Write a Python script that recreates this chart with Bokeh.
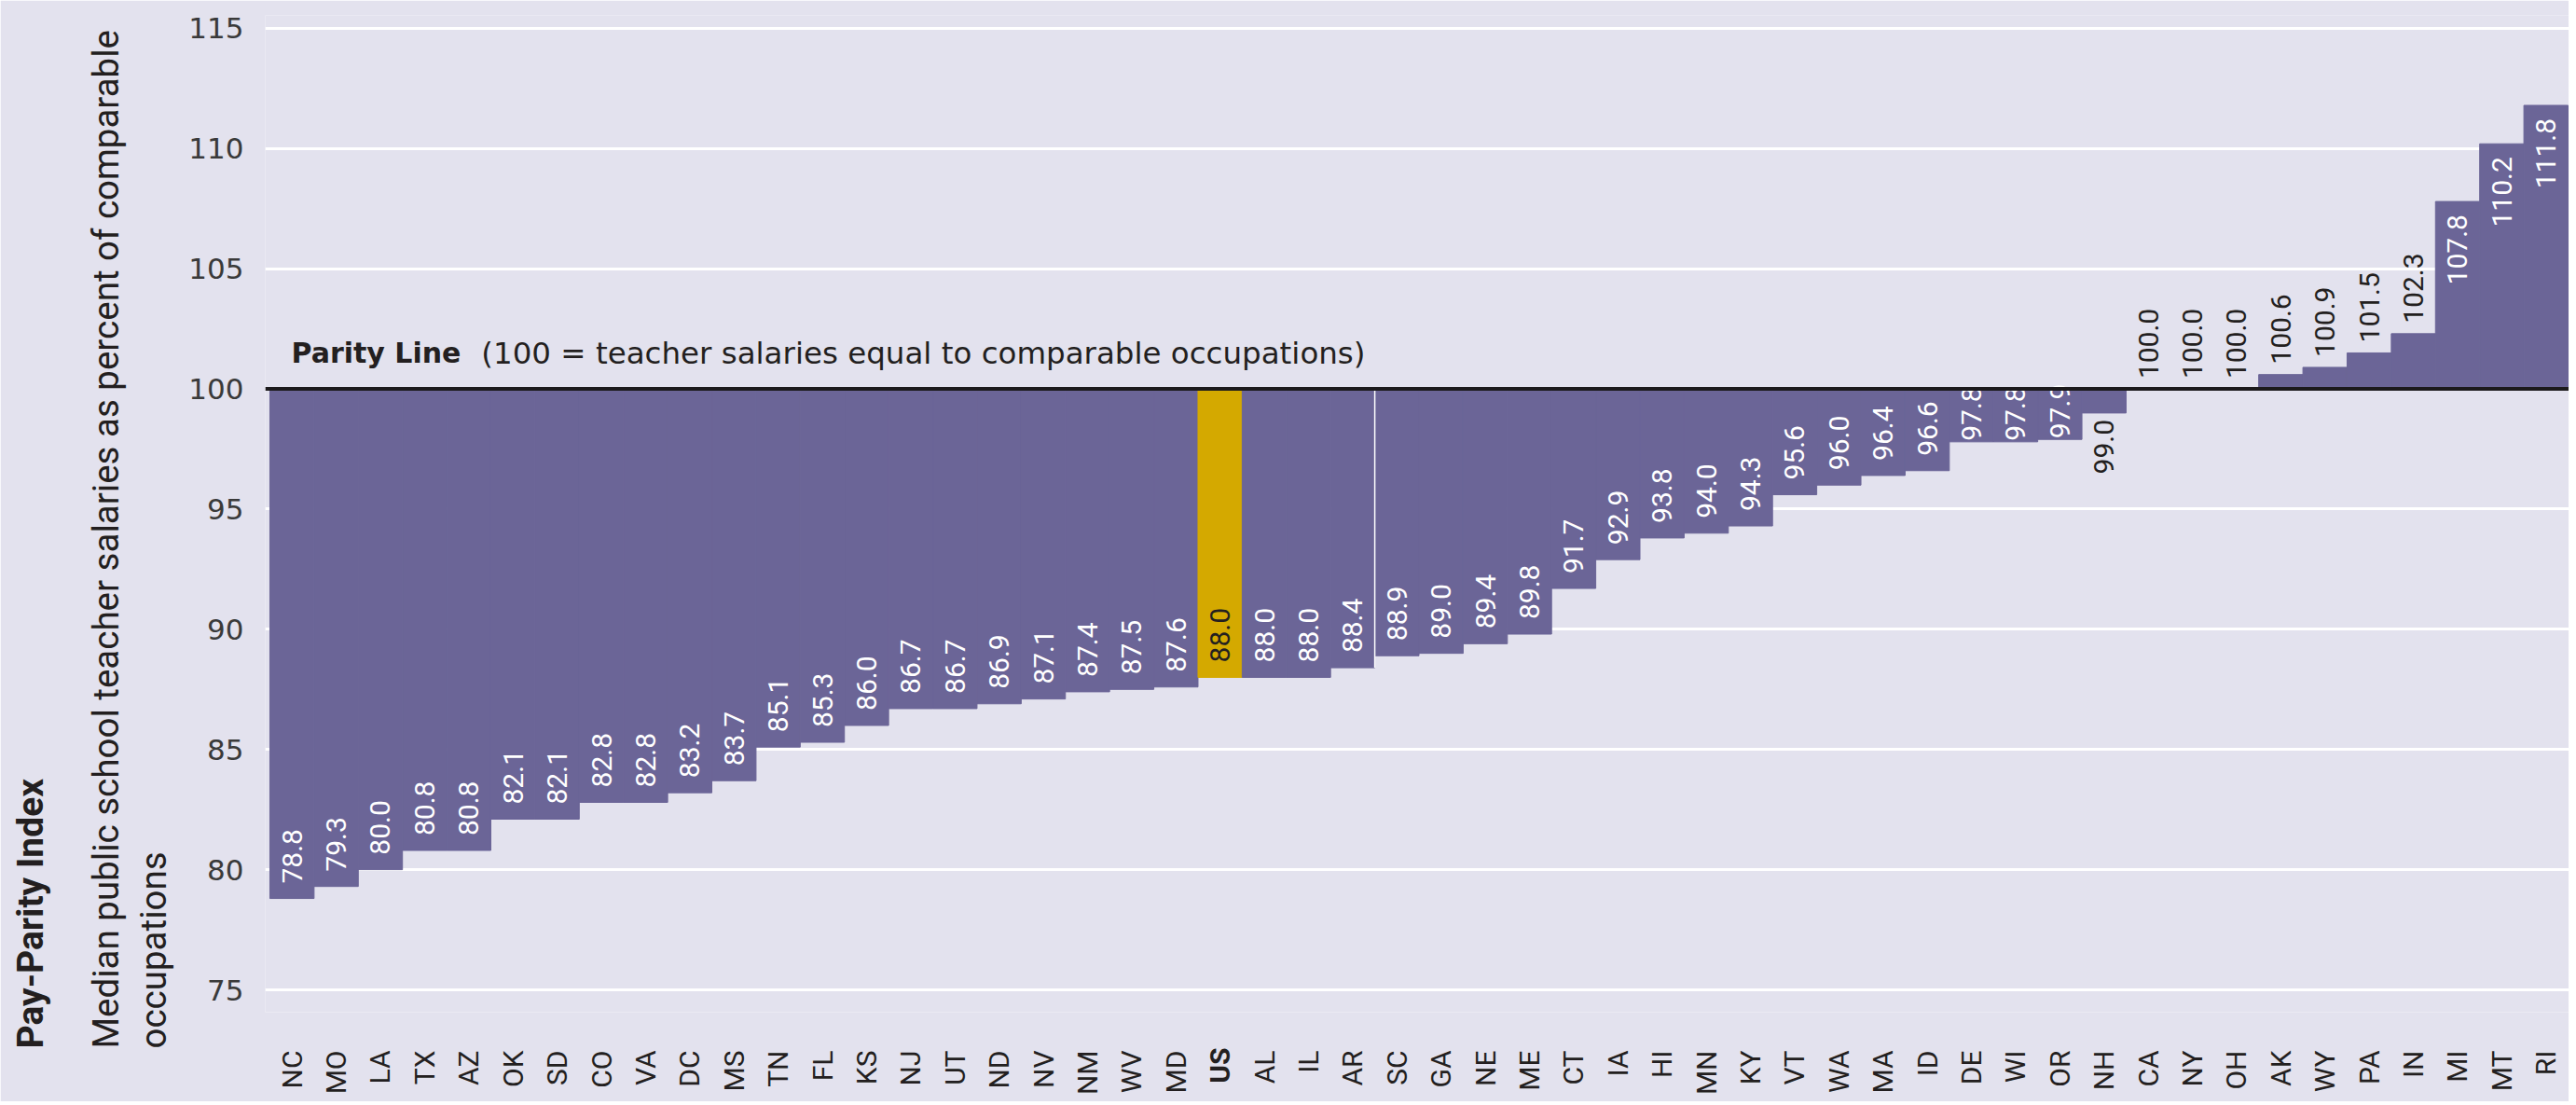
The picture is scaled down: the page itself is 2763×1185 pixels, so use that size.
import math
from bokeh.plotting import figure
from bokeh.models import Range1d, FixedTicker, Span, Label, ColumnDataSource, Title, LinearAxis
from bokeh.core.properties import value
from bokeh.embed import file_html
from bokeh.resources import INLINE

# ---------------- data ----------------
states = ["NC", "MO", "LA", "TX", "AZ", "OK", "SD", "CO", "VA", "DC", "MS", "TN", "FL",
          "KS", "NJ", "UT", "ND", "NV", "NM", "WV", "MD", "US", "AL", "IL", "AR", "SC",
          "GA", "NE", "ME", "CT", "IA", "HI", "MN", "KY", "VT", "WA", "MA", "ID", "DE",
          "WI", "OR", "NH", "CA", "NY", "OH", "AK", "WY", "PA", "IN", "MI", "MT", "RI"]
pay_parity = [78.8, 79.3, 80.0, 80.8, 80.8, 82.1, 82.1, 82.8, 82.8, 83.2, 83.7, 85.1, 85.3,
              86.0, 86.7, 86.7, 86.9, 87.1, 87.4, 87.5, 87.6, 88.0, 88.0, 88.0, 88.4, 88.9,
              89.0, 89.4, 89.8, 91.7, 92.9, 93.8, 94.0, 94.3, 95.6, 96.0, 96.4, 96.6, 97.8,
              97.8, 97.9, 99.0, 100.0, 100.0, 100.0, 100.6, 100.9, 101.5, 102.3, 107.8, 110.2,
              111.8]
highlight = "US"
parity = 100
y_ticks = [75, 80, 85, 90, 95, 100, 105, 110, 115]
title_bold = "Pay-Parity Index"
title_line1 = "Median public school teacher salaries as percent of comparable"
title_line2 = "occupations"
parity_bold = "Parity Line"
parity_note = "(100 = teacher salaries equal to comparable occupations)"

# ---------------- style ----------------
BG = "#e3e2ee"
BAR = "#6b6597"
GOLD = "#d4a900"
INK = "#231f20"
NARROW = "Roboto"
WIDE = "DejaVu Sans"

W, H = 2755, 1181
ML, MT, MB = 282, 16, 96
x_start, x_end = -0.605, 51.521
y_start, y_end = 74.069, 115.543
FW, FH = W - ML, H - MT - MB
PX_PER_Y = FH / (y_end - y_start)


def px_x(page_x):
    return x_start + (page_x - ML) / FW * (x_end - x_start)


def px_y(page_y):
    return y_end - (page_y - MT) / FH * (y_end - y_start)


p = figure(width=W, height=H, x_range=Range1d(x_start, x_end), y_range=Range1d(y_start, y_end),
           output_backend="svg", toolbar_location=None,
           min_border_left=ML, min_border_right=0, min_border_top=MT, min_border_bottom=MB,
           background_fill_color=BG, border_fill_color=BG, outline_line_color=None)

# grid
p.xgrid.grid_line_color = None
p.ygrid.ticker = FixedTicker(ticks=y_ticks)
p.ygrid.grid_line_color = "white"
p.ygrid.grid_line_width = 3

# bars
xs = list(range(len(states)))
colors = [GOLD if s == highlight else BAR for s in states]
src = ColumnDataSource(dict(x=xs, v=pay_parity, c=colors))
p.vbar(x="x", width=1.0, bottom=parity, top="v", fill_color="c", line_color="c",
       line_width=1, source=src)

# thin seam between AR and SC
i_sc = states.index("SC")
p.segment(x0=[i_sc - 0.5], y0=[parity], x1=[i_sc - 0.5], y1=[pay_parity[states.index("AR")]],
          line_color="white", line_width=1.5)

# parity line
p.add_layout(Span(location=parity, dimension="width", line_color="#1c1a1c", line_width=4,
                  level="overlay"))

# value labels
LABEL_SIZE = 30
label_len_px = 2.0 * LABEL_SIZE
groups = {"left": dict(x=[], y=[], t=[], c=[], o=[]), "right": dict(x=[], y=[], t=[], c=[], o=[])}
for i, (s, v) in enumerate(zip(states, pay_parity)):
    d = v - parity
    bar_px = abs(d) * PX_PER_Y
    if d < -1.5:          # inside, reading up from the bar end
        pad = 16 if bar_px > label_len_px + 22 else 1
        g, col, off = "left", (INK if s == highlight else "white"), -pad
    elif d < 0:           # short bar: below it
        g, col, off = "right", INK, 7
    elif d < 5:           # at/above parity, short: above the bar
        g, col, off = "left", INK, -11
    else:                 # tall bar: inside, ending near the top
        g, col, off = "right", "white", 14
    groups[g]["x"].append(i)
    groups[g]["y"].append(v)
    groups[g]["t"].append(f"{v:.1f}")
    groups[g]["c"].append(col)
    groups[g]["o"].append(off)
for align, gd in groups.items():
    p.text(x="x", y="y", text="t", text_color="c", y_offset="o", angle=math.pi / 2,
           text_align=align, text_baseline="middle", text_font=value(NARROW),
           text_font_size=f"{LABEL_SIZE}px", source=ColumnDataSource(gd))

# y axis
p.yaxis.ticker = FixedTicker(ticks=y_ticks)
p.yaxis.axis_line_color = None
p.yaxis.major_tick_line_color = None
p.yaxis.major_tick_out = 0
p.yaxis.minor_tick_line_color = None
p.yaxis.major_label_standoff = 23
p.yaxis.major_label_text_font = WIDE
p.yaxis.major_label_text_font_size = "31px"
p.yaxis.major_label_text_color = "#3a3a3a"


def style_x(ax, standoff, bold):
    ax.major_label_orientation = math.pi / 2
    ax.axis_line_color = None
    ax.major_tick_line_color = None
    ax.minor_tick_line_color = None
    ax.major_tick_out = 0
    ax.major_tick_in = 0
    ax.minor_tick_out = 0
    ax.major_label_standoff = standoff
    ax.major_label_text_font = NARROW
    ax.major_label_text_font_size = "30px"
    ax.major_label_text_font_style = "bold" if bold else "normal"
    ax.major_label_text_color = INK


# x axis: nearest axis carries the bold highlight label, the second one the states
X_STANDOFF = 38
US_EXTENT = 38   # approx. rendered length of the bold label
hi = states.index(highlight)
p.xaxis.ticker = FixedTicker(ticks=[hi])
p.xaxis.major_label_overrides = {hi: highlight}
style_x(p.xaxis[0], X_STANDOFF, True)

others = [i for i in xs if i != hi]
ax2 = LinearAxis(ticker=FixedTicker(ticks=others),
                 major_label_overrides={i: states[i] for i in others})
style_x(ax2, X_STANDOFF - (X_STANDOFF + US_EXTENT), False)
p.add_layout(ax2, "below")

# parity note
p.add_layout(Label(x=px_x(310), y=px_y(378), text=parity_bold, text_align="left",
                   text_baseline="alphabetic", text_font=WIDE, text_font_style="bold",
                   text_font_size="30px", text_color=INK))
p.add_layout(Label(x=px_x(514), y=px_y(378), text=parity_note, text_align="left",
                   text_baseline="alphabetic", text_font=WIDE, text_font_size="32.5px",
                   text_color=INK))

# y-axis titles, stacked outward from the tick labels (a blank spacer first)
p.add_layout(Title(text=" ", standoff=35, text_font_size="1px", text_color=BG), "left")
for txt, style, size, standoff in [(title_line2, "normal", 38.5, -50),
                                   (title_line1, "normal", 38.5, 52),
                                   (title_bold, "bold", 39, 14)]:
    p.add_layout(Title(text=txt, align="left", offset=-39, standoff=standoff,
                       text_font=NARROW, text_font_style=style, text_font_size=f"{size}px",
                       text_color=INK), "left")

open("out.html", "w").write(file_html(p, INLINE))
